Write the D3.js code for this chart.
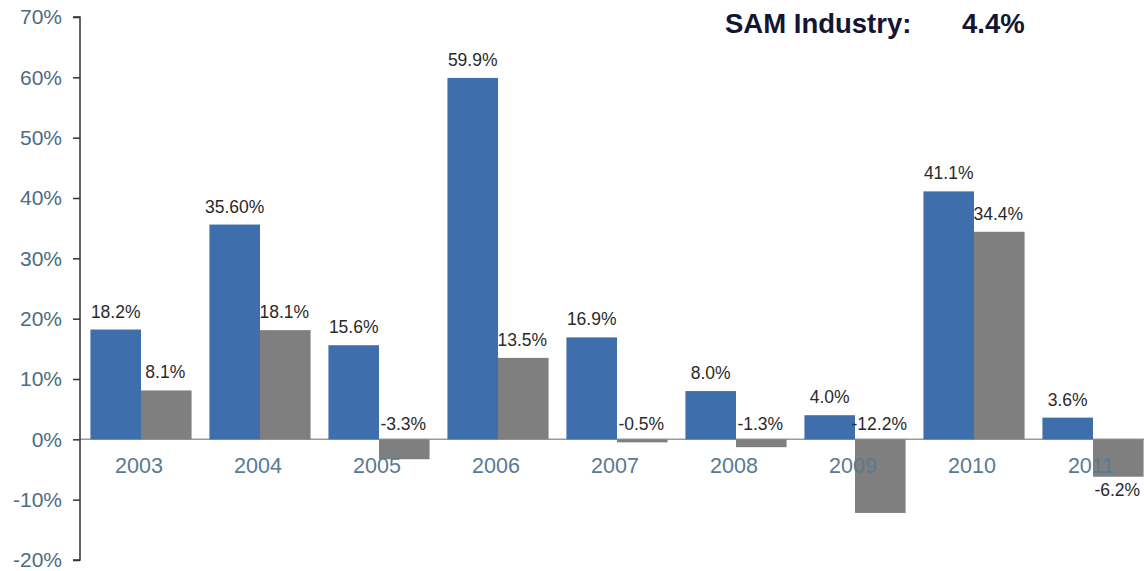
<!DOCTYPE html>
<html>
<head>
<meta charset="utf-8">
<script src="https://cdn.jsdelivr.net/npm/d3@7"></script>
<style>
  html, body { margin: 0; padding: 0; background: #fff; }
  svg { display: block; }
</style>
</head>
<body>
<svg id="chart" width="1144" height="571"></svg>
<script>
// ---- data ----
const years = ["2003", "2004", "2005", "2006", "2007", "2008", "2009", "2010", "2011"];
const samValues = [18.2, 35.6, 15.6, 59.9, 16.9, 8.0, 4.0, 41.1, 3.6];
const samLabels = ["18.2%", "35.60%", "15.6%", "59.9%", "16.9%", "8.0%", "4.0%", "41.1%", "3.6%"];
const industryValues = [8.1, 18.1, -3.3, 13.5, -0.5, -1.3, -12.2, 34.4, -6.2];
const industryLabels = ["8.1%", "18.1%", "-3.3%", "13.5%", "-0.5%", "-1.3%", "-12.2%", "34.4%", "-6.2%"];
const yTicks = [-20, -10, 0, 10, 20, 30, 40, 50, 60, 70];
const titleLabel = "SAM Industry:";
const titleValue = "4.4%";

// ---- layout ----
const svg = d3.select("#chart");
const blue = "#3e6fac", gray = "#7f7f7f";
const axisColor = "#4d6c83", labelColor = "#2a2a2a";

const y = d3.scaleLinear().domain([-20, 70]).range([560, 17]);
const x = d3.scaleBand().domain(years).range([81.5, 1152.5]).paddingInner(0.15).paddingOuter(0.075);
const half = x.bandwidth() / 2;

// zero line
svg.append("line")
  .attr("x1", 80).attr("x2", 1144)
  .attr("y1", y(0)).attr("y2", y(0))
  .attr("stroke", "#9a9a9a").attr("stroke-width", 1.5);

// y axis
const yAxis = d3.axisLeft(y).tickValues(yTicks).tickSize(7).tickPadding(11)
  .tickFormat(d => d + "%");
const gy = svg.append("g").attr("transform", "translate(80,0)").call(yAxis);
gy.select(".domain").attr("stroke", "#333").attr("stroke-width", 1.5).attr("d", `M-7,${y(70)}H0V${y(-20)}H-7`);
gy.selectAll(".tick line").attr("stroke", "#333").attr("stroke-width", 1.5);
gy.selectAll(".tick text")
  .attr("fill", axisColor)
  .style("font-family", "Liberation Sans, Arial, sans-serif")
  .style("font-size", "21px");

// bars
const groups = svg.append("g");
years.forEach((yr, i) => {
  const x0 = x(yr);
  const s = samValues[i], g = industryValues[i];
  groups.append("rect")
    .attr("x", x0).attr("width", half)
    .attr("y", y(Math.max(0, s))).attr("height", Math.abs(y(s) - y(0)))
    .attr("fill", blue);
  groups.append("rect")
    .attr("x", x0 + half).attr("width", half)
    .attr("y", y(Math.max(0, g))).attr("height", Math.abs(y(g) - y(0)))
    .attr("fill", gray);
});

// year labels
svg.append("g").selectAll("text").data(years).join("text")
  .attr("x", d => x(d) + half - 2)
  .attr("y", 473)
  .attr("text-anchor", "middle")
  .attr("fill", "#587a92")
  .style("font-family", "Liberation Sans, Arial, sans-serif")
  .style("font-size", "21.5px")
  .text(d => d);

// value labels
const lbl = svg.append("g")
  .style("font-family", "Liberation Sans, Arial, sans-serif")
  .style("font-size", "17.5px")
  .attr("fill", labelColor);

years.forEach((yr, i) => {
  const x0 = x(yr);
  lbl.append("text")
    .attr("x", x0 + half / 2).attr("y", y(samValues[i]) - 12)
    .attr("text-anchor", "middle").text(samLabels[i]);
  const g = industryValues[i];
  let ly;
  if (g >= 0) ly = y(g) - 12;
  else if (i === years.length - 1) ly = y(g) + 19;
  else ly = y(0) - 9;
  lbl.append("text")
    .attr("x", x0 + half * 1.5 - 1).attr("y", ly)
    .attr("text-anchor", "middle").text(industryLabels[i]);
});

// title
const tt = svg.append("g")
  .style("font-family", "Liberation Sans, Arial, sans-serif")
  .style("font-size", "27.5px")
  .style("font-weight", "bold")
  .attr("fill", "#141433");
tt.append("text").attr("x", 725).attr("y", 33).text(titleLabel);
tt.append("text").attr("x", 962).attr("y", 33).text(titleValue);
</script>
</body>
</html>
